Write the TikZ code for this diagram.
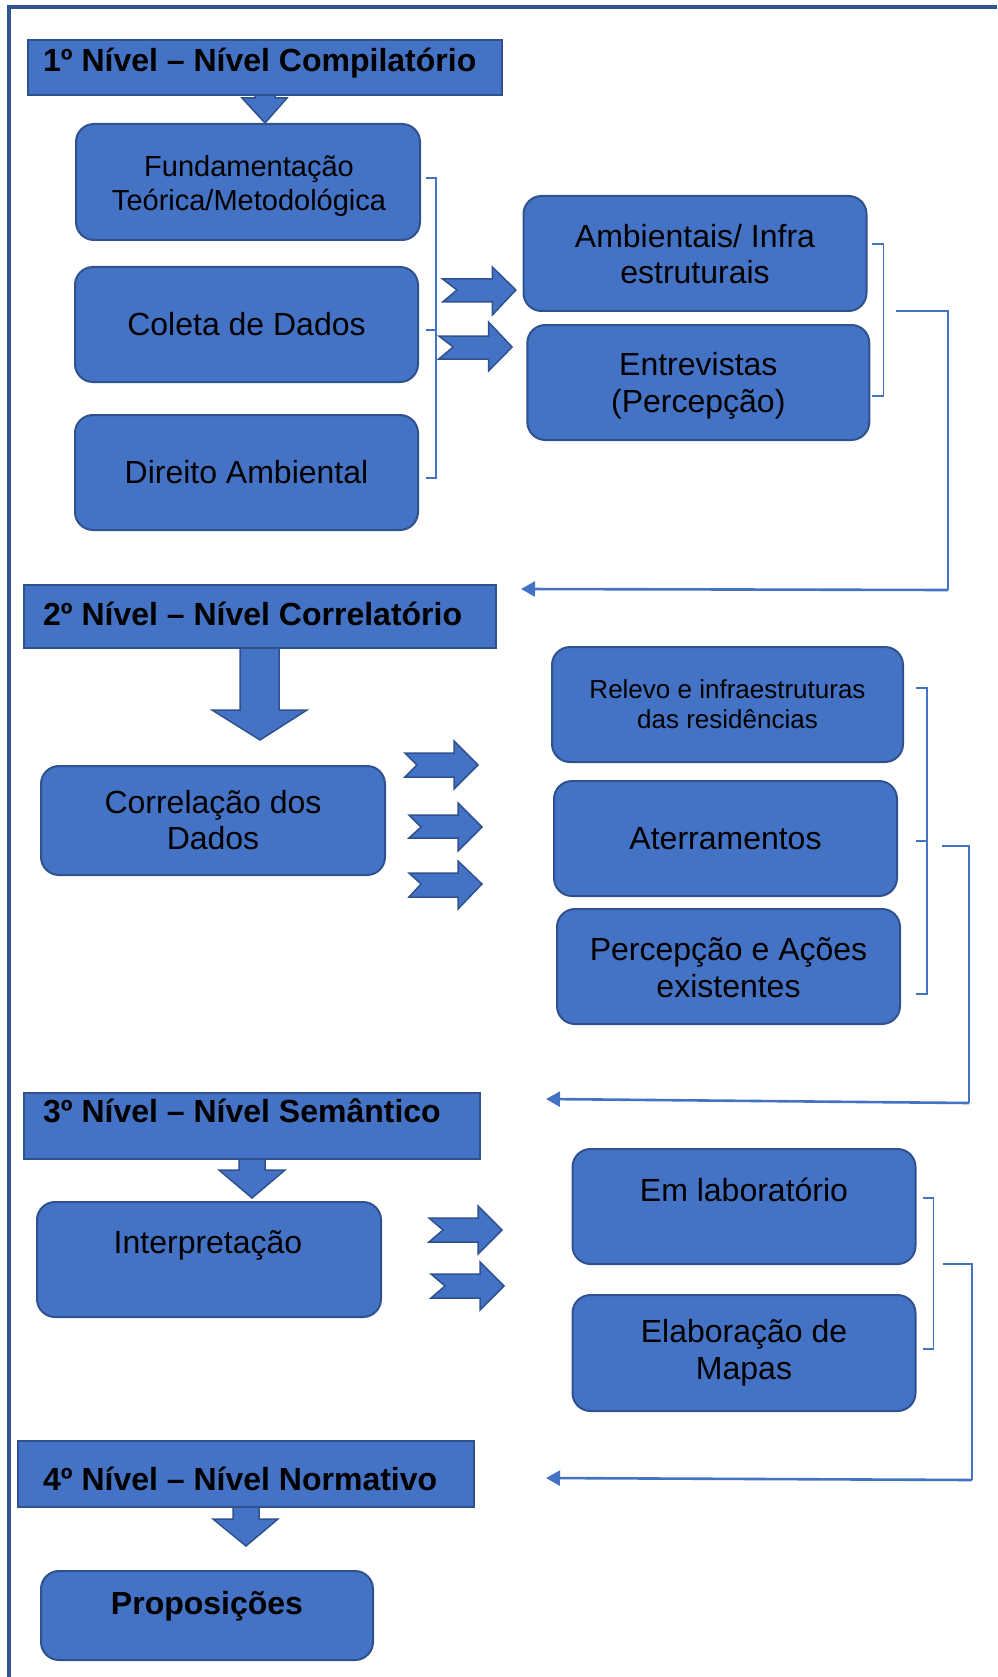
\documentclass[tikz,border=0pt]{standalone}
\usepackage{fontspec}
\setmainfont{Liberation Sans}
\usetikzlibrary{arrows.meta}
\definecolor{ofblue}{HTML}{4472C4}
\definecolor{ofdark}{HTML}{2F528F}
\definecolor{framec}{HTML}{2F5597}
\newcommand{\fs}[2]{\fontsize{#1}{#2}\selectfont}
\tikzset{
  hdr/.style={rectangle, fill=ofblue, draw=ofdark, line width=2pt, inner sep=0pt},
  rbox/.style={rectangle, rounded corners=18pt, fill=ofblue, draw=ofdark, line width=2pt, inner sep=0pt},
  txt/.style={inner sep=0pt, align=center, text=black},
  htxt/.style={inner sep=0pt, anchor=base west, text=black, font=\bfseries\fs{32}{36}},
  blockarrow/.style={fill=ofblue, draw=ofdark, line width=1.5pt, line join=miter},
  brk/.style={draw=ofblue, line width=1.3pt},
  ret/.style={draw=ofblue, line width=2.6pt, -{Triangle[length=14pt,width=15pt]}},
}
\begin{document}
\begin{tikzpicture}[x=1pt,y=-1pt]
\useasboundingbox (0,0) rectangle (997,1677);
% outer frame
\draw[framec, line width=4pt] (9,1677) -- (9,7) -- (997,7);

% ---------- Level 1 ----------
\draw[blockarrow] (255,93) -- (255,98) -- (242,98) -- (265,123) -- (287,98) -- (275,98) -- (275,93);
\node[hdr, minimum width=474pt, minimum height=55pt] (h1) at (265,67.5) {};
\node[htxt] (h1t) at (43,72) {1º Nível – Nível Compilatório};

\node[rbox, minimum width=344pt, minimum height=116pt] (f1) at (248,182) {};
\node[txt, font=\fs{29}{33.4}] (f1t) at (249,186) {Fundamentação\\Teórica/Metodológica};
\node[rbox, minimum width=343pt, minimum height=115pt, font=\fs{32}{36.8}] (f2) at (246.5,324.5) {Coleta de Dados};
\node[rbox, minimum width=343pt, minimum height=115pt, font=\fs{32}{36.8}] (f3) at (246.5,472.5) {Direito Ambiental};

\draw[brk] (426,178) -- (436,178) -- (436,478) -- (426,478);
\draw[brk] (426,330) -- (436,330);

\draw[blockarrow] (442.6,279) -- (492.3,279) -- (492.3,267) -- (515.9,290) -- (492.3,315) -- (492.3,302) -- (442.6,302) -- (457,290) -- cycle;
\draw[blockarrow] (438.8,336) -- (488.5,336) -- (488.5,322) -- (512.1,347) -- (488.5,371) -- (488.5,359) -- (438.8,359) -- (453.2,347) -- cycle;

\node[rbox, minimum width=343pt, minimum height=115pt] (a1) at (695,253.5) {};
\node[txt, font=\fs{32}{36.8}] (a1t) at (695,254) {Ambientais/ Infra\\estruturais};
\node[rbox, minimum width=342pt, minimum height=115pt] (a2) at (698.3,382.5) {};
\node[txt, font=\fs{32}{36.8}] (a2t) at (698.3,386) {Entrevistas\\(Percepção)};

\draw[brk] (872.3,244) -- (883.7,244) -- (883.7,396) -- (872.3,396);

\coordinate (r1a) at (895.8,311);
\coordinate (r1b) at (948,311);
\coordinate (r1c) at (948,590);
\coordinate (r1d) at (521,589);
\draw[brk] (r1a) -- (r1b) -- (r1c);
\draw[ret] (r1c) -- (r1d);

% ---------- Level 2 ----------
\draw[blockarrow] (240,646) -- (240,710) -- (212,710) -- (260,740) -- (307,710) -- (279,710) -- (279,646);
\node[hdr, minimum width=472pt, minimum height=63pt] (h2) at (260,616.5) {};
\node[htxt] (h2t) at (43,625) {2º Nível – Nível Correlatório};

\node[rbox, minimum width=344pt, minimum height=109pt] (c1) at (213,820.5) {};
\node[txt, font=\fs{32}{36.8}] (c1t) at (213,820) {Correlação dos\\Dados};

\draw[blockarrow] (405,753) -- (454,753) -- (454,741) -- (478,765) -- (454,789) -- (454,777) -- (405,777) -- (417,765) -- cycle;
\draw[blockarrow] (409,815) -- (458,815) -- (458,803) -- (482,827) -- (458,851) -- (458,838) -- (409,838) -- (421,827) -- cycle;
\draw[blockarrow] (409,873) -- (458,873) -- (458,861) -- (482,884) -- (458,909) -- (458,897) -- (409,897) -- (421,884) -- cycle;

\node[rbox, minimum width=351pt, minimum height=115pt] (g1) at (727.5,704.5) {};
\node[txt, font=\fs{26}{30}] (g1t) at (727.5,704) {Relevo e infraestruturas\\das residências};
\node[rbox, minimum width=343pt, minimum height=115pt, font=\fs{32}{36.8}] (g2) at (725.5,838.5) {Aterramentos};
\node[rbox, minimum width=343pt, minimum height=115pt] (g3) at (728.5,966.5) {};
\node[txt, font=\fs{32}{36.8}] (g3t) at (728.5,968) {Percepção e Ações\\existentes};

\draw[brk] (916,688) -- (927,688) -- (927,994) -- (916,994);
\draw[brk] (916,841) -- (927,841);

\coordinate (r2a) at (942,846);
\coordinate (r2b) at (969,846);
\coordinate (r2c) at (969,1103);
\coordinate (r2d) at (546,1099);
\draw[brk] (r2a) -- (r2b) -- (r2c);
\draw[ret] (r2c) -- (r2d);

% ---------- Level 3 ----------
\draw[blockarrow] (239,1157) -- (239,1170) -- (219,1170) -- (252,1198) -- (285,1170) -- (265,1170) -- (265,1157);
\node[hdr, minimum width=456pt, minimum height=66pt] (h3) at (252,1126) {};
\node[htxt] (h3t) at (43,1122) {3º Nível – Nível Semântico};

\node[rbox, minimum width=344pt, minimum height=115pt] (i1) at (209,1259.5) {};
\node[txt, font=\fs{32}{36.8}] (i1t) at (208,1245) {Interpretação};

\draw[blockarrow] (429,1218) -- (478,1218) -- (478,1206) -- (502,1230) -- (478,1254) -- (478,1242) -- (429,1242) -- (443,1230) -- cycle;
\draw[blockarrow] (431,1274) -- (480,1274) -- (480,1262) -- (504,1286) -- (480,1310) -- (480,1298) -- (431,1298) -- (445,1286) -- cycle;

\node[rbox, minimum width=343pt, minimum height=115pt] (e1) at (744,1206.5) {};
\node[txt, font=\fs{32}{36.8}] (e1t) at (744,1190) {Em laboratório};
\node[rbox, minimum width=343pt, minimum height=116pt] (e2) at (744,1353) {};
\node[txt, font=\fs{32}{36.8}] (e2t) at (744,1353) {Elaboração de\\Mapas};

\draw[brk] (922.6,1198) -- (933.6,1198) -- (933.6,1349) -- (922.6,1349);

\coordinate (r3a) at (942.8,1264);
\coordinate (r3b) at (972,1264);
\coordinate (r3c) at (972,1480);
\coordinate (r3d) at (546,1478);
\draw[brk] (r3a) -- (r3b) -- (r3c);
\draw[ret] (r3c) -- (r3d);

% ---------- Level 4 ----------
\draw[blockarrow] (233,1505) -- (233,1519) -- (213,1519) -- (246,1546) -- (278,1519) -- (259,1519) -- (259,1505);
\node[hdr, minimum width=456pt, minimum height=66pt] (h4) at (246,1474) {};
\node[htxt] (h4t) at (43,1490) {4º Nível – Nível Normativo};

\node[rbox, minimum width=332pt, minimum height=89pt] (p1) at (207,1615.5) {};
\node[txt, font=\bfseries\fs{32}{36.8}] (p1t) at (207,1606) {Proposições};
\end{tikzpicture}
\end{document}
